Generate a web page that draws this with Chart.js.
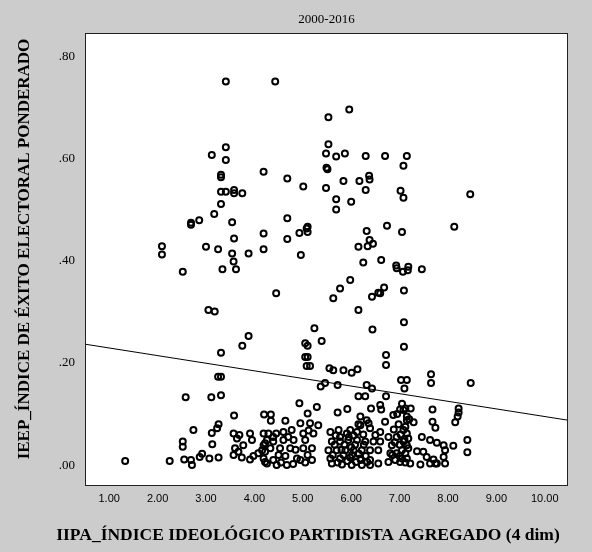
<!DOCTYPE html>
<html lang="es">
<head>
<meta charset="UTF-8">
<title>IEEP vs IIPA</title>
<script src="https://cdn.jsdelivr.net/npm/chart.js"></script>
<style>
  html, body { margin: 0; padding: 0; background: #cccccc; }
  canvas { display: block; }
</style>
</head>
<body>
<canvas id="scatter" width="592" height="552"></canvas>
<script>
  const chartTitle = '2000-2016';
  const xTitle = 'IIPA_ÍNDICE IDEOLÓGICO PARTIDISTA AGREGADO (4 dim)';
  const yTitle = 'IEEP_ÍNDICE DE ÉXITO ELECTORAL PONDERADO';

  const xTicks = [1, 2, 3, 4, 5, 6, 7, 8, 9, 10];
  const yTicks = [0, 0.2, 0.4, 0.6, 0.8];

  // IIPA (x) of each party-election
  const iipa = [
    3.41, 4.43, 5.53, 5.96, 5.53, 5.48, 5.69, 5.87, 6.30, 6.70,
    7.15, 7.08, 5.51, 4.68, 5.01, 5.48, 5.84, 6.17, 6.37, 6.38,
    6.30, 7.02, 7.08, 5.69, 6.00, 5.69, 4.68, 4.93, 5.08, 5.10,
    4.68, 4.96, 6.32, 6.74, 7.05, 6.38, 6.45, 6.15, 6.34, 6.25,
    6.62, 6.93, 7.07, 7.18, 7.46, 5.98, 5.77, 6.68, 6.56, 6.43,
    7.09, 4.45, 5.63, 8.46, 8.13, 6.94, 7.17, 5.10, 5.49, 3.41,
    3.12, 3.41, 4.19, 3.31, 3.31, 3.31, 3.41, 3.58, 3.58, 3.75,
    3.31, 3.17, 2.86, 2.69, 2.69, 3.54, 4.19, 3.58, 2.09, 2.09,
    3.00, 3.25, 3.54, 3.57, 3.62, 3.34, 3.88, 4.19, 2.52, 3.05,
    3.18, 5.24, 5.39, 5.05, 5.10, 5.05, 5.10, 5.08, 5.15, 5.55,
    3.88, 3.75, 3.31, 3.25, 3.31, 5.46, 5.37, 6.15, 6.60, 7.09,
    6.44, 7.09, 6.72, 6.72, 5.63, 5.84, 6.01, 6.13, 7.65, 7.65,
    8.47, 7.03, 7.15, 6.32, 6.43, 5.72, 7.10, 7.01, 7.12, 7.23,
    7.68, 8.22, 8.22, 8.20, 8.15, 7.29, 7.15, 7.68, 7.74, 8.40,
    8.40, 7.46, 7.63, 7.77, 7.91, 7.94, 8.11, 7.36, 7.49, 7.56,
    7.70, 7.74, 7.63, 7.91, 7.94, 7.77, 7.22, 7.43, 7.08, 7.15,
    7.18, 7.08, 7.15, 7.05, 7.12, 7.15, 7.01, 6.15, 6.29, 6.72,
    4.93, 5.29, 5.10, 4.20, 4.34, 4.34, 4.64, 5.72, 5.92, 6.19,
    6.15, 6.32, 6.36, 6.41, 6.60, 6.62, 6.70, 6.87, 7.08, 7.15,
    4.19, 4.39, 4.60, 4.77, 4.95, 5.15, 5.32, 5.01, 5.22, 5.05,
    4.81, 4.60, 4.39, 4.22, 4.16, 4.33, 4.53, 4.74, 5.01, 5.19,
    4.19, 4.39, 4.64, 4.88, 4.95, 5.19, 4.26, 4.46, 4.67, 5.57,
    5.74, 5.77, 5.91, 5.98, 6.12, 6.19, 6.39, 6.50, 6.60, 5.60,
    5.77, 5.94, 6.12, 6.29, 6.46, 6.60, 5.53, 5.70, 5.88, 6.05,
    6.22, 6.39, 6.56, 5.57, 5.77, 5.98, 6.19, 6.39, 6.56, 5.60,
    5.81, 6.01, 6.22, 6.39, 6.77, 6.84, 6.94, 6.81, 6.94, 6.77,
    6.91, 7.05, 7.18, 1.33, 2.25, 2.58, 3.11, 3.31, 2.74, 3.12,
    3.23, 3.26, 2.52, 2.52, 3.13, 2.55, 2.69, 2.71, 2.87, 2.92,
    3.07, 3.26, 3.58, 3.57, 3.64, 3.69, 3.91, 3.95, 3.77, 3.60,
    3.67, 3.57, 3.74, 3.91, 3.98, 4.08, 4.19, 4.22, 4.26, 4.29,
    4.22,
    // dense bottom clusters (estimated)
    5.62, 5.66, 5.72, 5.84, 5.86, 5.92, 6.02, 6.08, 6.10, 6.16,
    6.26, 6.30, 6.33, 5.95, 6.05, 5.68, 6.25, 5.80, 6.00, 6.20,
    6.88, 6.98, 7.02, 7.12, 7.20, 6.90, 7.00, 7.10, 6.85, 7.00,
    7.12, 6.95, 7.05, 4.50, 4.70, 4.85, 5.10, 4.55, 4.80, 5.05,
    4.45, 5.12
  ];

  // IEEP (y) of each party-election
  const ieep = [
    0.752, 0.752, 0.682, 0.697, 0.629, 0.611, 0.605, 0.611, 0.606, 0.606,
    0.606, 0.587, 0.580, 0.562, 0.546, 0.543, 0.557, 0.557, 0.567, 0.560,
    0.539, 0.538, 0.524, 0.521, 0.516, 0.501, 0.484, 0.455, 0.464, 0.457,
    0.443, 0.412, 0.459, 0.469, 0.457, 0.441, 0.434, 0.428, 0.429, 0.397,
    0.402, 0.391, 0.379, 0.389, 0.384, 0.363, 0.346, 0.348, 0.338, 0.330,
    0.342, 0.337, 0.327, 0.531, 0.467, 0.386, 0.382, 0.467, 0.583, 0.623,
    0.608, 0.598, 0.575, 0.569, 0.564, 0.536, 0.536, 0.539, 0.533, 0.533,
    0.512, 0.492, 0.480, 0.475, 0.471, 0.476, 0.454, 0.444, 0.429, 0.413,
    0.428, 0.423, 0.415, 0.399, 0.384, 0.384, 0.415, 0.423, 0.379, 0.304,
    0.301, 0.268, 0.243, 0.239, 0.234, 0.212, 0.212, 0.194, 0.194, 0.190,
    0.253, 0.234, 0.220, 0.173, 0.173, 0.161, 0.154, 0.304, 0.337, 0.280,
    0.266, 0.232, 0.216, 0.196, 0.186, 0.186, 0.181, 0.188, 0.178, 0.161,
    0.161, 0.167, 0.167, 0.157, 0.150, 0.157, 0.150, 0.109, 0.111, 0.111,
    0.109, 0.111, 0.103, 0.095, 0.084, 0.084, 0.088, 0.085, 0.073, 0.049,
    0.025, 0.055, 0.049, 0.044, 0.039, 0.029, 0.038, 0.027, 0.026, 0.016,
    0.011, 0.003, 0.003, 0.016, 0.003, 0.003, 0.003, 0.001, 0.069, 0.062,
    0.052, 0.046, 0.039, 0.029, 0.023, 0.013, 0.006, 0.135, 0.135, 0.135,
    0.121, 0.114, 0.101, 0.099, 0.099, 0.087, 0.087, 0.103, 0.110, 0.095,
    0.080, 0.088, 0.082, 0.111, 0.118, 0.109, 0.085, 0.098, 0.108, 0.095,
    0.062, 0.055, 0.065, 0.069, 0.082, 0.082, 0.078, 0.062, 0.062, 0.049,
    0.049, 0.049, 0.046, 0.043, 0.029, 0.033, 0.033, 0.033, 0.033, 0.033,
    0.013, 0.010, 0.018, 0.013, 0.010, 0.010, 0.003, 0.000, 0.000, 0.065,
    0.069, 0.055, 0.062, 0.069, 0.065, 0.078, 0.072, 0.059, 0.065, 0.046,
    0.046, 0.049, 0.049, 0.046, 0.046, 0.046, 0.029, 0.029, 0.029, 0.029,
    0.029, 0.029, 0.029, 0.013, 0.013, 0.015, 0.013, 0.010, 0.003, 0.003,
    0.001, 0.000, 0.000, 0.000, 0.055, 0.039, 0.055, 0.023, 0.023, 0.006,
    0.010, 0.013, 0.033, 0.008, 0.008, 0.133, 0.133, 0.137, 0.069, 0.063,
    0.072, 0.080, 0.046, 0.036, 0.041, 0.011, 0.010, 0.000, 0.016, 0.022,
    0.013, 0.015, 0.097, 0.062, 0.052, 0.059, 0.062, 0.049, 0.039, 0.033,
    0.026, 0.020, 0.015, 0.011, 0.018, 0.023, 0.039, 0.026, 0.049, 0.062,
    0.006,
    // dense bottom clusters (estimated)
    0.020, 0.040, 0.005, 0.020, 0.040, 0.008, 0.020, 0.040, 0.006, 0.022,
    0.040, 0.018, 0.006, 0.055, 0.058, 0.058, 0.060, 0.030, 0.035, 0.010,
    0.070, 0.080, 0.060, 0.075, 0.090, 0.045, 0.040, 0.050, 0.020, 0.018,
    0.005, 0.100, 0.120, 0.020, 0.055, 0.030, 0.020, 0.005, 0.002, 0.005,
    0.062, 0.068
  ];

  // linear fit line, ends at the frame edges
  const fitX = [0.5, 10.48];
  const fitY = [0.237, 0.088];

  const points = iipa.map((x, i) => ({ x: x, y: ieep[i] }));
  const fitLine = fitX.map((x, i) => ({ x: x, y: fitY[i] }));

  // grey page, white plot box, frame and the three titles
  const spssFrame = {
    id: 'spssFrame',
    beforeDraw(chart) {
      const { ctx, chartArea: a } = chart;
      ctx.save();
      ctx.fillStyle = '#cccccc';
      ctx.fillRect(0, 0, chart.width, chart.height);
      ctx.fillStyle = '#ffffff';
      ctx.fillRect(a.left, a.top, a.right - a.left, a.bottom - a.top);
      ctx.restore();
    },
    afterDraw(chart) {
      const { ctx, chartArea: a } = chart;
      ctx.save();
      ctx.strokeStyle = '#222222';
      ctx.lineWidth = 1;
      ctx.strokeRect(a.left + 0.5, a.top + 0.5, a.right - a.left - 1, a.bottom - a.top - 1);

      ctx.fillStyle = '#000000';
      ctx.textAlign = 'center';
      ctx.textBaseline = 'middle';
      ctx.font = '13px "Liberation Serif", "Times New Roman", serif';
      ctx.fillText(chartTitle, (a.left + a.right) / 2, 20);

      ctx.font = 'bold 17.5px "Liberation Serif", "Times New Roman", serif';
      ctx.fillText(xTitle, 308, 535);

      ctx.font = 'bold 17px "Liberation Serif", "Times New Roman", serif';
      ctx.translate(25, 249);
      ctx.rotate(-Math.PI / 2);
      ctx.fillText(yTitle, 0, 0);
      ctx.restore();
    }
  };

  new Chart(document.getElementById('scatter'), {
    type: 'scatter',
    data: {
      datasets: [
        {
          label: 'IEEP',
          data: points,
          pointStyle: 'circle',
          pointRadius: 3,
          pointHoverRadius: 3,
          borderWidth: 2,
          borderColor: '#000000',
          backgroundColor: 'rgba(0,0,0,0)'
        },
        {
          type: 'line',
          label: 'Ajuste lineal',
          data: fitLine,
          borderColor: '#000000',
          borderWidth: 1,
          pointRadius: 0,
          fill: false
        }
      ]
    },
    options: {
      responsive: false,
      animation: false,
      events: [],
      layout: { padding: { top: 33, right: 24, left: 0, bottom: 0 } },
      plugins: {
        legend: { display: false },
        tooltip: { enabled: false },
        title: { display: false }
      },
      scales: {
        x: {
          type: 'linear',
          min: 0.5,
          max: 10.48,
          grid: { display: false, drawTicks: false },
          border: { display: false },
          afterBuildTicks: s => { s.ticks = xTicks.map(v => ({ value: v })); },
          afterFit: s => { s.height = 66; },
          ticks: {
            color: '#000000',
            padding: 6,
            maxRotation: 0,
            font: { family: '"Liberation Sans", Arial, sans-serif', size: 11 },
            callback: v => Number(v).toFixed(2)
          }
        },
        y: {
          type: 'linear',
          min: -0.041,
          max: 0.847,
          grid: { display: false, drawTicks: false },
          border: { display: false },
          afterBuildTicks: s => { s.ticks = yTicks.map(v => ({ value: v })); },
          afterFit: s => { s.width = 85; },
          ticks: {
            color: '#000000',
            padding: 10,
            font: { family: '"Liberation Serif", "Times New Roman", serif', size: 13 },
            callback: v => Number(v).toFixed(2).replace(/^0/, '')
          }
        }
      }
    },
    plugins: [spssFrame]
  });
</script>
</body>
</html>
